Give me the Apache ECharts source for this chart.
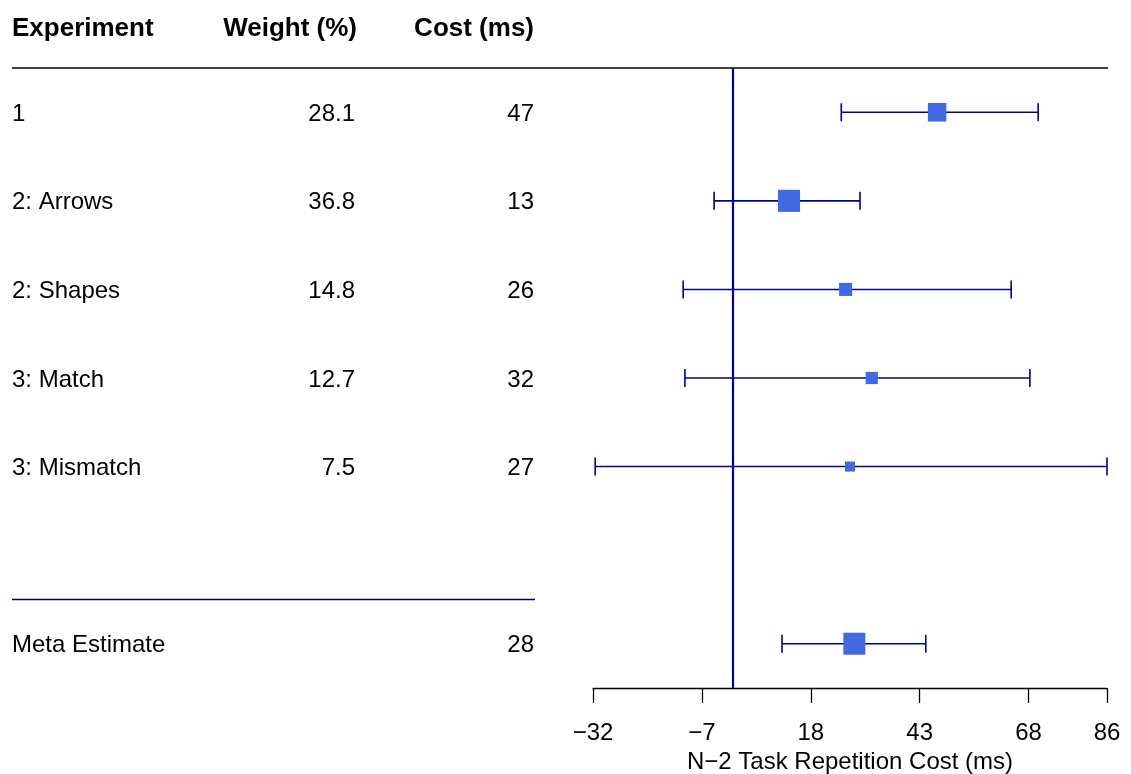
<!DOCTYPE html>
<html>
<head>
<meta charset="utf-8">
<script src="https://cdn.jsdelivr.net/npm/echarts@6/dist/echarts.min.js"></script>
<style>
html,body{margin:0;padding:0;background:#fff;}
#chart{width:1131px;height:774px;}
</style>
</head>
<body>
<div id="chart"></div>
<script>
// ---- data ----
const headers = ['Experiment', 'Weight (%)', 'Cost (ms)'];
const studies = ['1', '2: Arrows', '2: Shapes', '3: Match', '3: Mismatch'];
const weights = [28.1, 36.8, 14.8, 12.7, 7.5];
const costs = [47, 13, 26, 32, 27];
const ciLow = [25, -4.2, -11.3, -10.9, -31.5];
const ciHigh = [70.2, 29.3, 64, 68.3, 86];
const metaLabel = 'Meta Estimate';
const metaCost = 28;
const metaLow = 11.4;
const metaHigh = 44.4;
const axisTitle = 'N\u22122 Task Repetition Cost (ms)';
const xMin = -32, xMax = 86, xStep = 25;

// ---- build ----
const FONT = "'Liberation Sans', Arial, sans-serif";
const metaRow = studies.length + 1;

const ciData = studies.map((s, i) => [ciLow[i], ciHigh[i], i]);
ciData.push([metaLow, metaHigh, metaRow]);

const ptData = studies.map((s, i) => ({ value: [costs[i], i], symbolSize: 7 + 0.41 * weights[i] }));
ptData.push({ value: [metaCost, metaRow], symbolSize: 22 });

// table rows: [row, label, weight text, cost text, bold]
const tableData = [[-0.97, headers[0], headers[1], headers[2], 1]];
studies.forEach((s, i) => tableData.push([i, s, weights[i].toFixed(1), String(costs[i]), 0]));
tableData.push([metaRow, metaLabel, '', String(metaCost), 0]);

const chart = echarts.init(document.getElementById('chart'), null, { renderer: 'canvas' });

const option = {
  animation: false,
  backgroundColor: '#ffffff',
  grid: { left: 593, right: 24, top: 68, bottom: 86, containLabel: false, outerBoundsMode: 'none' },
  xAxis: {
    type: 'value', min: xMin, max: xMax, interval: xStep,
    axisLine: { show: true, onZero: false, lineStyle: { color: '#000', width: 1.3 } },
    axisTick: { show: true, inside: false, length: 15, lineStyle: { color: '#000', width: 1.3 } },
    splitLine: { show: false },
    axisLabel: {
      show: true, margin: 33, color: '#000', fontSize: 24, fontFamily: FONT,
      showMinLabel: true, showMaxLabel: true,
      formatter: v => (v < 0 ? '\u2212' + Math.abs(v) : String(v))
    },
    name: axisTitle, nameLocation: 'middle', nameGap: 60,
    nameTextStyle: { color: '#000', fontSize: 24, fontFamily: FONT }
  },
  yAxis: {
    type: 'value', min: -0.5, max: metaRow + 0.5, inverse: true, show: false
  },
  series: [
    {
      type: 'custom', name: 'table', clip: false, z: 1,
      data: tableData,
      renderItem: function (params, api) {
        const row = api.value(0);
        const y = api.coord([0, row])[1] + 2;
        const d = tableData[params.dataIndex];
        const bold = d[4] === 1;
        const base = { fontSize: bold ? 26 : 24, fontFamily: FONT, fontWeight: bold ? 'bold' : 'normal', fill: '#000', verticalAlign: 'middle' };
        const children = [
          { type: 'text', style: Object.assign({}, base, { text: d[1], x: 12, y: y, align: 'left' }) },
          { type: 'text', style: Object.assign({}, base, { text: d[2], x: bold ? 357 : 355, y: y, align: 'right' }) },
          { type: 'text', style: Object.assign({}, base, { text: d[3], x: 534, y: y, align: 'right' }) }
        ];
        if (params.dataIndex === 0) {
          const yl = api.coord([0, -0.5])[1];
          children.push({ type: 'line', shape: { x1: 12, y1: yl, x2: 1108, y2: yl }, style: { stroke: '#000', lineWidth: 1.5 } });
          const ys = api.coord([0, metaRow - 0.5])[1];
          children.push({ type: 'line', shape: { x1: 12, y1: ys, x2: 535, y2: ys }, style: { stroke: '#00005a', lineWidth: 1.5 } });
        }
        return { type: 'group', children: children };
      },
      silent: true
    },
    {
      type: 'custom', name: 'ci', z: 3, clip: false,
      data: ciData,
      renderItem: function (params, api) {
        const a = api.coord([api.value(0), api.value(2)]);
        const b = api.coord([api.value(1), api.value(2)]);
        const h = 9;
        const st = { stroke: '#00008B', lineWidth: 1.6 };
        return {
          type: 'group',
          children: [
            { type: 'line', shape: { x1: a[0], y1: a[1], x2: b[0], y2: b[1] }, style: st },
            { type: 'line', shape: { x1: a[0], y1: a[1] - h, x2: a[0], y2: a[1] + h }, style: st },
            { type: 'line', shape: { x1: b[0], y1: b[1] - h, x2: b[0], y2: b[1] + h }, style: st }
          ]
        };
      },
      markLine: {
        silent: true, symbol: 'none', label: { show: false },
        lineStyle: { color: '#00008B', width: 2.2, type: 'solid' },
        data: [{ xAxis: 0 }]
      }
    },
    {
      type: 'scatter', name: 'estimate', z: 5,
      symbol: 'rect',
      itemStyle: { color: '#4169E1', opacity: 1 },
      data: ptData
    }
  ]
};
chart.setOption(option);
</script>
</body>
</html>
